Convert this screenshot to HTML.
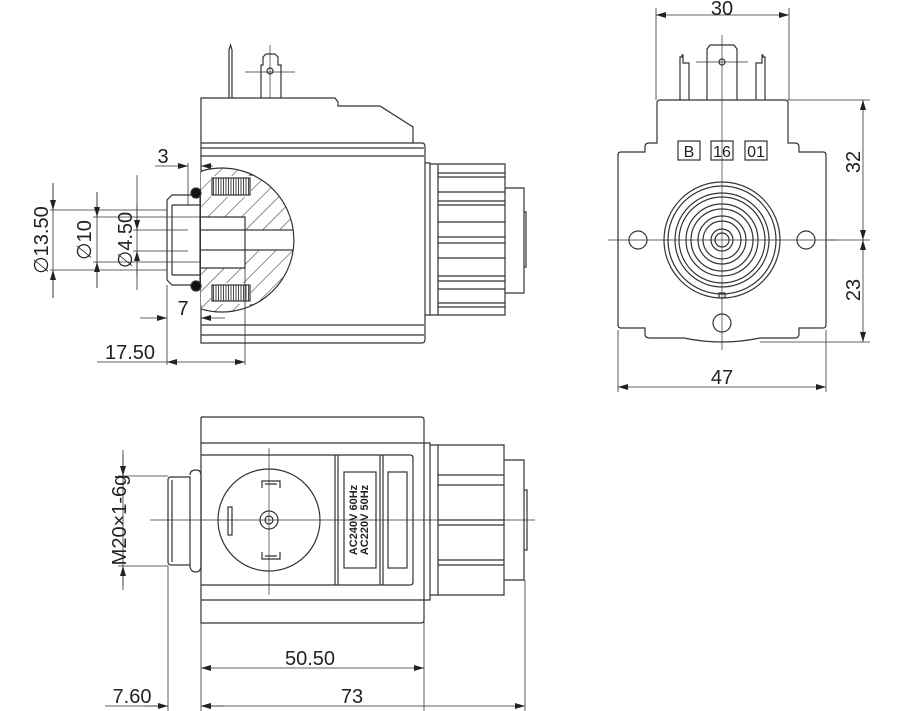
<!DOCTYPE html>
<html><head><meta charset="utf-8"><style>
html,body{margin:0;padding:0;background:#fff;}
svg{display:block;}
text{font-family:"Liberation Sans",sans-serif;fill:#222;}
</style></head><body>
<svg width="900" height="711" viewBox="0 0 900 711" xmlns="http://www.w3.org/2000/svg">
<defs>
<pattern id="h" patternUnits="userSpaceOnUse" width="12" height="12" patternTransform="rotate(45)">
<line x1="0" y1="0" x2="0" y2="12" stroke="#333" stroke-width="1"/></pattern>
<pattern id="c" patternUnits="userSpaceOnUse" width="2.5" height="10">
<line x1="1" y1="0" x2="1" y2="10" stroke="#333" stroke-width="0.9"/></pattern>
<clipPath id="cc"><path d="M201,171.1A72,72 0 1 1 201,308.9Z"/></clipPath>
<marker id="a" viewBox="0 0 10 6" refX="10" refY="3" markerWidth="10" markerHeight="6" orient="auto-start-reverse" markerUnits="userSpaceOnUse"><path d="M0,0L10,3L0,6z" fill="#222"/></marker>
</defs>
<g fill="none" stroke="#333" stroke-width="1.2">
<!-- ===== TOP LEFT VIEW ===== -->
<path d="M229,98V50L230.5,45L232,50V98"/>
<path d="M261,98V65H263V57L266,54H275L278,57V65H281V98"/>
<circle cx="270" cy="71" r="3"/>
<path d="M245,72H295M270,45V98" stroke-width="0.7"/>
<path d="M201,143V98H335L338,102V106H380L413,127V143"/>
<path d="M201,143H422Q425,143 425,147V339Q425,343 422,343H201V143"/>
<path d="M201,148H424M201,156H424M201,325H424M201,335H424"/>
<path d="M425,163H430V315H425"/>
<path d="M430,164H505V315H430"/>
<path d="M438,164V315"/>
<path d="M438,173H505M438,177H505M438,192H505M438,201H505M438,205H505M438,222H505M438,237H505M438,243H505M438,258H505M438,276H505M438,281H505M438,289H505M438,303H505M438,307H505"/>
<path d="M505,188H524V293H505M524,212H526V267H524"/>
<!-- cut section -->
<g clip-path="url(#cc)">
<rect x="201" y="160" width="100" height="160" fill="#fff" stroke="none"/>
<rect x="201" y="160" width="100" height="160" fill="url(#h)" stroke="none"/>
<rect x="211" y="176" width="40" height="21" fill="#fff" stroke="none"/>
<rect x="211" y="283" width="40" height="21" fill="#fff" stroke="none"/>
<rect x="201" y="217" width="44" height="51" fill="#fff" stroke="none"/>
<rect x="188" y="230" width="110" height="20" fill="#fff"/>
<rect x="212" y="178" width="38" height="17" fill="url(#c)"/>
<rect x="212" y="285" width="38" height="16" fill="url(#c)"/>
<path d="M201,217H245V268H201"/>
<path d="M250,175H293M250,305H293"/>
</g>
<path d="M201,171.1A72,72 0 1 1 201,308.9"/>
<path d="M188,230H201M188,250H201M188,230V250"/>
<!-- nut -->
<path d="M172,195H200V285H172L167,280V200Z" fill="#fff"/>
<path d="M172,205V275M200,205H172M200,275H172"/>
<circle cx="196" cy="193" r="5" fill="#111"/>
<circle cx="196" cy="286" r="5" fill="#111"/>
<g stroke-width="0.8">
<path d="M50,210H167M50,270H167M93,217H200M93,262H200M133,230H188M133,251H188"/>
<path d="M53,183V298M97,192V288M137,175V290"/>
<path d="M53,183V210" marker-end="url(#a)"/><path d="M53,298V270" marker-end="url(#a)"/>
<path d="M97,192V217" marker-end="url(#a)"/><path d="M97,288V262" marker-end="url(#a)"/>
<path d="M137,205V230" marker-end="url(#a)"/><path d="M137,277V251" marker-end="url(#a)"/>
<path d="M188,163V205M167,285V365M245,268V365M201,305V320"/>
<path d="M155,166H188" marker-end="url(#a)"/><path d="M213,166H201" marker-end="url(#a)"/>
<path d="M140,318H167" marker-end="url(#a)"/><path d="M225,318H201" marker-end="url(#a)"/>
<path d="M97,362H167"/><path d="M206,362H167" marker-end="url(#a)"/><path d="M206,362H245" marker-end="url(#a)"/>
</g>
<!-- ===== RIGHT VIEW ===== -->
<path d="M660,100H785Q788,100 788,103V143H795Q799,143 799,147V152H823Q826,152 826,155V325Q826,328 823,328H799V334Q799,338 795,338H760Q722,346 684,338H650Q645,338 645,334V328H621Q618,328 618,325V155Q618,152 621,152H645V147Q645,143 649,143H657V103Q657,100 660,100Z"/>
<path d="M707,100V49L710,45H734L737,49V100"/>
<circle cx="722" cy="62" r="3"/>
<path d="M680,100V57H682V55H683V63H689V100M765,100V57H763V55H762V63H756V100"/>
<rect x="678" y="141" width="22" height="19"/><rect x="711" y="141" width="22" height="19"/><rect x="745" y="141" width="22" height="19"/>
<circle cx="722" cy="240" r="58"/><circle cx="722" cy="240" r="54"/><circle cx="722" cy="240" r="47"/>
<circle cx="722" cy="240" r="43"/><circle cx="722" cy="240" r="36"/><circle cx="722" cy="240" r="31"/>
<circle cx="722" cy="240" r="24"/><circle cx="722" cy="240" r="19"/><circle cx="722" cy="240" r="11"/><circle cx="722" cy="240" r="7"/>
<rect x="719" y="293" width="6" height="5"/>
<circle cx="638" cy="240" r="9"/><circle cx="806" cy="240" r="9"/><circle cx="722" cy="323" r="9"/>
<g stroke-width="0.7"><path d="M722,35V350M608,240H838M696,62H748"/></g>
<g stroke-width="0.8">
<path d="M656,8V100M789,8V100M788,100H870M826,240H870M760,342H870M618,330V392M826,330V392"/>
<path d="M722,15H656" marker-end="url(#a)"/><path d="M722,15H789" marker-end="url(#a)"/>
<path d="M863,170V100" marker-end="url(#a)"/><path d="M863,170V240" marker-end="url(#a)"/>
<path d="M863,290V240" marker-end="url(#a)"/><path d="M863,290V342" marker-end="url(#a)"/>
<path d="M722,387H618" marker-end="url(#a)"/><path d="M722,387H826" marker-end="url(#a)"/>
</g>
<!-- ===== BOTTOM VIEW ===== -->
<path d="M201,417H421Q424,417 424,420V620Q424,623 421,623H201V417"/>
<path d="M201,443H424M201,600H424"/>
<path d="M201,455H410Q413,455 413,458V582Q413,585 410,585H201"/>
<path d="M335,455V585M338,455V585M380,455V585M383,455V585"/>
<rect x="344" y="472" width="32" height="96"/>
<rect x="388" y="472" width="19" height="96"/>
<circle cx="269" cy="520" r="51"/>
<circle cx="269" cy="520" r="9"/><circle cx="269" cy="520" r="4"/>
<path d="M262,488V481H280V488M265,484H277M262,552V559H280V552M265,556H277"/>
<rect x="228" y="507" width="4" height="28"/>
<g stroke-width="0.7"><path d="M150,520H535M269,448V595"/></g>
<path d="M424,443H430V600H424"/>
<path d="M430,445H504V595H430M438,445V595"/>
<path d="M438,475H504M438,485H504M438,520H504M438,525H504M438,560H504M438,565H504"/>
<path d="M504,460H524V580H504M524,490H527V550H524"/>
<path d="M171,477H190V565H171Q168,565 168,562V480Q168,477 171,477Z"/>
<path d="M172,480V562"/>
<path d="M190,475Q190,470 196,470Q201,470 201,475V565Q201,572 196,572Q190,572 190,565"/>
<g stroke-width="0.8">
<path d="M118,476H168M118,566H168M123,450V590"/>
<path d="M123,455V476" marker-end="url(#a)"/><path d="M123,585V566" marker-end="url(#a)"/>
<path d="M168,566V711M201,623V711M424,600V711M525,580V711"/>
<path d="M312,668H201" marker-end="url(#a)"/><path d="M312,668H424" marker-end="url(#a)"/>
<path d="M105,706H168"/><path d="M145,706H168" marker-end="url(#a)"/><path d="M225,706H201" marker-end="url(#a)"/>
<path d="M360,706H201" marker-end="url(#a)"/><path d="M360,706H525" marker-end="url(#a)"/>
</g>
</g>
<g font-size="20">
<text x="722" y="15" text-anchor="middle">30</text>
<text x="722" y="384" text-anchor="middle">47</text>
<text transform="translate(860,162) rotate(-90)" text-anchor="middle">32</text>
<text transform="translate(860,290) rotate(-90)" text-anchor="middle">23</text>
<text x="163" y="163" text-anchor="middle">3</text>
<text x="183" y="315" text-anchor="middle">7</text>
<text x="130" y="359" text-anchor="middle">17.50</text>
<text transform="translate(48,240) rotate(-90)" text-anchor="middle">∅13.50</text>
<text transform="translate(91,240) rotate(-90)" text-anchor="middle">∅10</text>
<text transform="translate(132,240) rotate(-90)" text-anchor="middle">∅4.50</text>
<text transform="translate(126,520) rotate(-90)" text-anchor="middle">M20×1-6g</text>
<text x="310" y="665" text-anchor="middle">50.50</text>
<text x="352" y="703" text-anchor="middle">73</text>
<text x="132" y="703" text-anchor="middle">7.60</text>
</g>
<g font-size="16" text-anchor="middle">
<text x="689" y="157">B</text><text x="722" y="157">16</text><text x="756" y="157">01</text>
</g>
<g font-size="11" font-weight="bold" text-anchor="middle">
<text transform="translate(357,520) rotate(-90)">AC240V 60Hz</text>
<text transform="translate(368,520) rotate(-90)">AC220V 50Hz</text>
</g>
</svg>
</body></html>
